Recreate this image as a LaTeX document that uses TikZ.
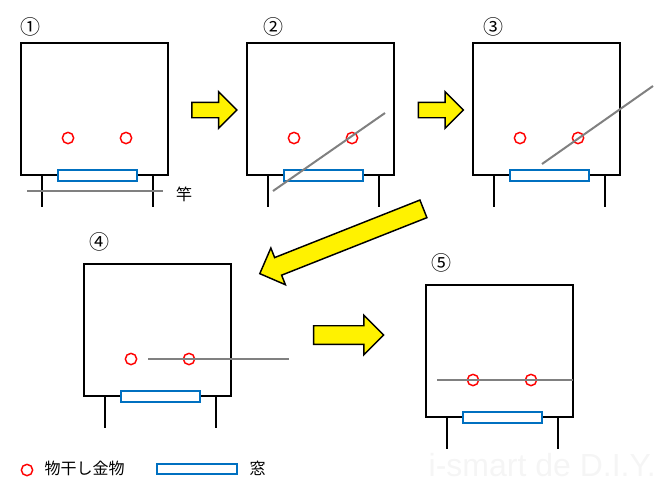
\documentclass[tikz,border=0pt]{standalone}
\usepackage{fontspec}
\setmainfont{Liberation Sans}
\newfontfamily\jp{Noto Sans CJK JP}
\usetikzlibrary{shapes.arrows}
\definecolor{winblue}{RGB}{0,112,192}
\definecolor{polegray}{RGB}{128,128,128}

\begin{document}
\begin{tikzpicture}[
    x=0.75pt, y=-0.75pt,
    wall/.style={
        draw=black,
        line width=1.5pt
    },
    hook/.style={
        circle,
        draw=red,
        line width=1.1pt,
        minimum size=8.5pt,
        inner sep=0pt
    },
    window/.style={
        draw=winblue,
        fill=white,
        line width=1.1pt
    },
    pole/.style={
        draw=polegray,
        line width=1.5pt
    },
    numlabel/.style={
        font=\jp\fontsize{12}{12}\selectfont
    },
    stepnum/.style={
        font=\jp\fontsize{15}{15}\selectfont
    },
    flow/.style={
        single arrow,
        draw=black,
        fill=yellow,
        line width=1.1pt,
        inner xsep=0pt,
        inner ysep=6.4pt,
        single arrow head extend=7.9pt
    },
    room/.pic={
        \draw[wall] (0,0) rectangle (147,132);
        \draw[wall] (21,132) -- (21,164);
        \draw[wall] (132,132) -- (132,164);
        \draw[window] (37,127) rectangle (116,138);
        \node[hook] (-hookL) at (47,95) {};
        \node[hook] (-hookR) at (105,95) {};
    }
]
\path[use as bounding box] (0,0) rectangle (660,487);

% Watermark
\node[font=\fontsize{24}{24}\selectfont, text=black!4, anchor=west] (mark) at (424,465) {i-smart de D.I.Y.};

% Rooms
\pic (r1) at (21,43) {room};
\pic (r2) at (247,43) {room};
\pic (r3) at (473,43) {room};
\pic (r4) at (84,264) {room};
\pic (r5) at (426,285) {room};

% Poles
\coordinate (p1a) at (27,191);  \coordinate (p1b) at (163,191);
\coordinate (p2a) at (273,191); \coordinate (p2b) at (385,113);
\coordinate (p3a) at (542,164); \coordinate (p3b) at (653,86);
\coordinate (p4a) at (148,359); \coordinate (p4b) at (289,359);
\coordinate (p5a) at (437,380); \coordinate (p5b) at (573,380);
\draw[pole] (p1a) -- (p1b);
\draw[pole] (p2a) -- (p2b);
\draw[pole] (p3a) -- (p3b);
\draw[pole] (p4a) -- (p4b);
\draw[pole] (p5a) -- (p5b);

% Step numbers
\node[stepnum] (n1) at (30,27) {①};
\node[stepnum] (n2) at (273,27) {②};
\node[stepnum] (n3) at (493,27) {③};
\node[stepnum] (n4) at (99,242) {④};
\node[stepnum] (n5) at (441,263) {⑤};
\node[numlabel] (poleText) at (184,194) {竿};

% Arrows
\node[flow, minimum height=33.75pt, inner ysep=5.25pt, single arrow head extend=7.9pt] (go12) at (210.5,110) {};
\node[flow, minimum height=33.75pt, inner ysep=5.25pt, single arrow head extend=7.9pt] (go23) at (437,110) {};
\node[flow, minimum height=132pt, inner ysep=6.55pt, single arrow head extend=7.7pt, rotate=201.6] (go34) at (346,239.5) {};
\node[flow, minimum height=52.5pt] (go45) at (344,335) {};

% Legend
\node[hook] (keyHook) at (27,470) {};
\node[numlabel, anchor=west] (keyHookText) at (40,468) {物干し金物};
\node[window, minimum width=60pt, minimum height=7.5pt, inner sep=0pt] (keyWindow) at (197,469) {};
\node[numlabel, anchor=west] (keyWindowText) at (245,468) {窓};

\end{tikzpicture}
\end{document}
